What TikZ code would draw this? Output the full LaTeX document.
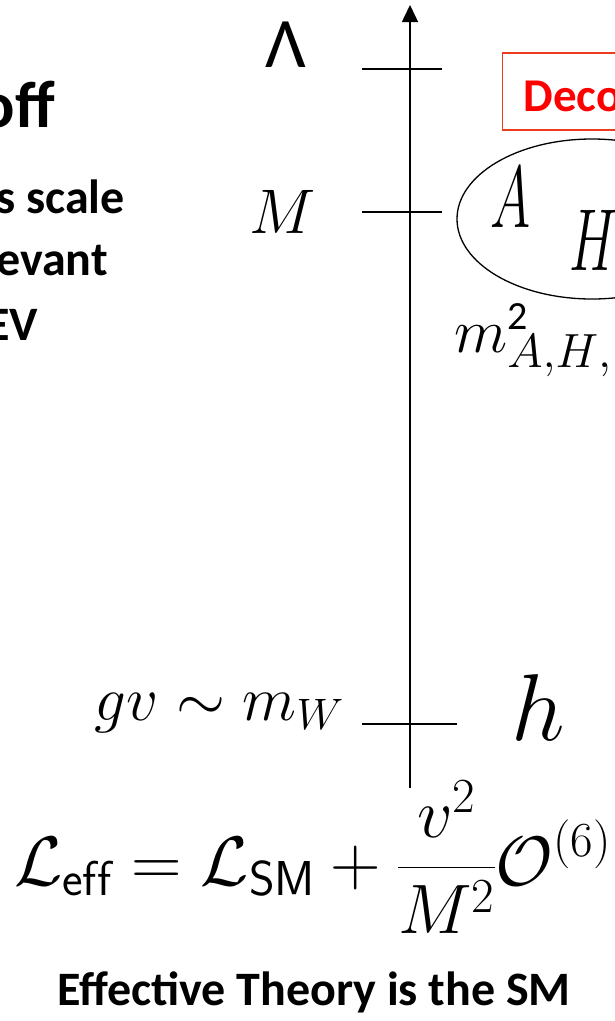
\RequirePackage{fix-cm}
\documentclass[tikz,border=0pt]{standalone}
\usepackage{fontspec}
\usepackage{amsmath}
\usepackage{graphicx}
\newfontfamily\slidefont{Carlito}
\usetikzlibrary{arrows.meta,shapes.geometric,positioning}
\definecolor{boxred}{RGB}{235,60,30}
\DeclareMathSizes{62}{62}{43}{31}
\DeclareMathSizes{63}{63}{44}{32}
\DeclareMathSizes{70}{70}{49}{35}

\begin{document}
\begin{tikzpicture}[
    x=1pt, y=-1pt,
    axis/.style={line width=1.5pt, -{Triangle[length=17pt,width=16pt]}},
    tick/.style={line width=1.5pt},
    plain/.style={inner sep=0pt},
    scalelbl/.style={plain, font=\fontsize{63}{70}\selectfont},
    title/.style={plain, font=\slidefont\bfseries\fontsize{66}{72}\selectfont},
    slidetxt/.style={plain, font=\slidefont\bfseries\fontsize{48}{56}\selectfont},
    squeezed/.style={plain, font=\fontsize{88}{96}\selectfont}
]
\useasboundingbox (0,0) rectangle (615,1021);
\clip (0,0) rectangle (615,1021);

% energy axis
\coordinate (bot) at (410,788);
\coordinate (top) at (410,5);
\draw [axis] (bot) -- (top);

\coordinate (lamL) at (362,69);
\coordinate (lamR) at (442,69);
\coordinate (mL) at (362,212);
\coordinate (mR) at (442,212);
\coordinate (wL) at (362,724);
\coordinate (wR) at (457,724);
\draw [tick] (lamL) -- (lamR);
\draw [tick] (mL) -- (mR);
\draw [tick] (wL) -- (wR);

\node (lam) [plain, anchor=base, font=\slidefont\fontsize{71}{80}\selectfont] at (286,67) {Λ};
\node (mlbl) [scalelbl, anchor=base] at (283,233) {$M$};
\node (gv) [scalelbl, anchor=base east] at (344,720) {$gv \sim m_W$};

% left column, cut at the edge
\node (off) [title, anchor=base east] at (55,127) {off};
\node (scale) [slidetxt, anchor=base east] at (125,213) {s scale};
\node (evant) [slidetxt, anchor=base east] at (108,275) {evant};
\node (ev) [slidetxt, anchor=base east] at (38,340) {EV};

% heavy states
\node (deco) [draw=boxred, line width=1.3pt, anchor=base west, text=red,
    font=\slidefont\bfseries\fontsize{47}{52}\selectfont, inner xsep=21pt, inner ysep=0pt,
    text height=58pt, text depth=19pt, text width=160pt, align=left] at (502,111) {Deco};
\node (heavy) [ellipse, draw, line width=1.3pt, minimum width=270pt, minimum height=160pt, inner sep=0pt] at (592,219) {};
\node (A) [squeezed, anchor=base] at (511,227) {\scalebox{0.62}[1]{$A$}};
\node (H) [squeezed, anchor=base west] at (569,270) {\scalebox{0.62}[1]{$H$}};
\node (mass) [plain, anchor=base west, font=\fontsize{62}{70}\selectfont] at (454,352)
    {$m^{\hbox{\slidefont\fontsize{40}{44}\selectfont 2}}_{\hbox{\fontsize{48}{52}\selectfont$A{,}H{,}$}}$};

\node (h) [plain, anchor=base, font=\fontsize{95}{100}\selectfont] at (538,740) {$h$};

\node (leff) [plain, anchor=base west, font=\fontsize{70}{78}\selectfont] at (14,885)
    {$\displaystyle \mathcal{L}_{\mathsf{eff}} = \mathcal{L}_{\mathsf{SM}} + \frac{v^2}{M^2}\mathcal{O}^{(6)}$};
\node (concl) [slidetxt, anchor=base] at (314,1005) {Effective Theory is the SM};
\end{tikzpicture}
\end{document}
